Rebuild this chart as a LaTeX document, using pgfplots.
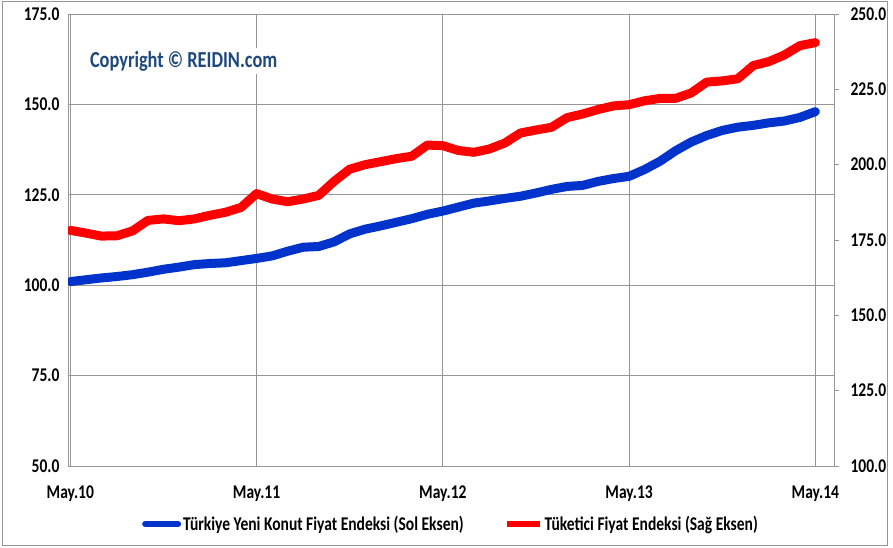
\documentclass[border=0pt]{standalone}
\usepackage{pgfplots}
\pgfplotsset{compat=1.18}
\usepackage{pgfplotstable}
\usepackage{fontspec}
\setmainfont{Carlito}[FakeStretch=0.8]
\definecolor{blueline}{RGB}{0,51,204}
\definecolor{redline}{RGB}{255,0,0}
\definecolor{gridgray}{RGB}{150,150,150}
\definecolor{copyblue}{RGB}{31,73,125}

\pgfplotstableread{
m blue red
0 101.0 178.2
1 101.5 177.3
2 102.0 176.3
3 102.4 176.4
4 102.9 178.0
5 103.6 181.5
6 104.4 182.0
7 105.0 181.4
8 105.7 182.0
9 106.0 183.2
10 106.2 184.2
11 106.8 185.8
12 107.4 190.4
13 108.1 188.6
14 109.4 187.7
15 110.5 188.6
16 110.7 189.8
17 112.0 194.5
18 114.2 198.5
19 115.5 200.0
20 116.4 201.0
21 117.4 202.0
22 118.4 202.8
23 119.6 206.5
24 120.5 206.3
25 121.6 204.7
26 122.7 204.1
27 123.3 205.2
28 124.0 207.2
29 124.6 210.5
30 125.5 211.5
31 126.5 212.4
32 127.3 215.6
33 127.6 216.8
34 128.7 218.3
35 129.5 219.5
36 130.1 219.9
37 132.0 221.2
38 134.3 222.0
39 137.2 222.0
40 139.6 223.8
41 141.4 227.4
42 142.8 227.8
43 143.7 228.5
44 144.2 232.9
45 144.9 234.2
46 145.4 236.4
47 146.4 239.5
48 148.0 240.5
}\datatable

\begin{document}
\begin{tikzpicture}
\useasboundingbox (0bp,0bp) rectangle (893bp,548bp);
\draw[gridgray, line width=1bp] (2bp,2bp) rectangle (887bp,546bp);
\begin{axis}[
  at={(68bp,82bp)}, anchor=south west,
  scale only axis, width=766bp, height=452bp,
  xmin=-0.15, xmax=49.2, ymin=50, ymax=175,
  xtick={0,12,24,36,48},
  xticklabels={May.10,May.11,May.12,May.13,May.14},
  ytick={50,75,100,125,150,175},
  yticklabels={50.0,75.0,100.0,125.0,150.0,175.0},
  grid=major,
  grid style={gridgray, line width=0.8bp},
  axis line style={gridgray, line width=0.8bp},
  major tick length=0pt,
  tick label style={font=\bfseries\fontsize{19.5}{20}\selectfont},
  xticklabel style={yshift=-16bp},
  yticklabel style={xshift=-5bp},
  legend style={at={(0.5,-0.128)}, anchor=center, draw=none,
    legend columns=2, font=\bfseries\fontsize{19.5}{20}\selectfont,
    /tikz/every even column/.append style={column sep=38bp}},
  legend cell align=left,
  legend image code/.code={\draw[#1, line width=6bp] (0bp,0bp) -- (33bp,0bp);},
]
\addplot[blueline, line width=9bp, line join=round, line cap=round] table[x=m, y=blue] {\datatable};
\addlegendentry{Türkiye Yeni Konut Fiyat Endeksi (Sol Eksen)}
\addlegendimage{redline, line width=9bp}
\addlegendentry{Tüketici Fiyat Endeksi (Sağ Eksen)}
\node[fill=white, text=copyblue, font=\bfseries\fontsize{23}{24}\selectfont, inner sep=3bp] at (axis cs:7.3,162) {Copyright © REIDIN.com};
\end{axis}
\begin{axis}[
  at={(68bp,82bp)}, anchor=south west,
  scale only axis, width=766bp, height=452bp,
  xmin=-0.15, xmax=49.2, ymin=100, ymax=250,
  axis x line=none,
  axis y line*=right,
  axis line style={gridgray, line width=0.8bp, -},
  ytick={100,125,150,175,200,225,250},
  yticklabels={100.0,125.0,150.0,175.0,200.0,225.0,250.0},
  tick align=outside,
  major tick length=5bp,
  ytick style={gridgray, line width=0.8bp},
  tick label style={font=\bfseries\fontsize{19.5}{20}\selectfont},
  yticklabel style={xshift=8bp},
]
\addplot[redline, line width=9bp, line join=round, line cap=round] table[x=m, y=red] {\datatable};
\end{axis}
\end{tikzpicture}
\end{document}
